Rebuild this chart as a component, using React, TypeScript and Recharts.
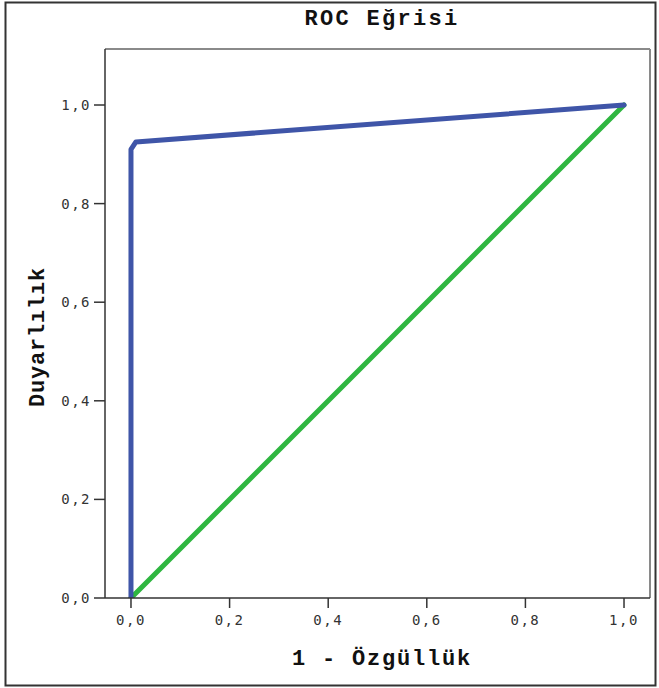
import React from 'react';
import { LineChart, Line, XAxis, YAxis } from 'recharts';

// ROC points
const ROC_CURVE = [
  { x: 0, y: 0 },
  { x: 0, y: 0.91 },
  { x: 0.01, y: 0.925 },
  { x: 1, y: 1 },
];
const REFERENCE_LINE = [
  { x: 0, y: 0 },
  { x: 1, y: 1 },
];
const TICKS = [0, 0.2, 0.4, 0.6, 0.8, 1];
const X_DOMAIN = [-0.0527, 1.0527];
const Y_DOMAIN = [0, 1.1136];

const fmt = (v: number) => v.toFixed(1).replace('.', ',');

const tickStyle = { fill: '#333', fontSize: 14, fontFamily: '"DejaVu Sans Mono", monospace', letterSpacing: 1.5 };
const labelFont = { fontFamily: '"Liberation Mono", "Courier New", monospace', fontWeight: 700, fill: '#111' };

export default function App() {
  return (
    <div style={{ position: 'absolute', left: 0, top: 0, width: 659, height: 688, background: '#fff' }}>
      <LineChart width={659} height={688} margin={{ top: 0, right: 0, bottom: 0, left: 0 }}>
        <XAxis xAxisId="top" orientation="top" type="number" dataKey="x" domain={X_DOMAIN} allowDataOverflow
          height={49} tick={false} tickLine={false} axisLine={{ stroke: '#8a8a8a', strokeWidth: 2 }} />
        <YAxis yAxisId="right" orientation="right" type="number" dataKey="y" domain={Y_DOMAIN} allowDataOverflow
          width={9} tick={false} tickLine={false} axisLine={{ stroke: '#8a8a8a', strokeWidth: 2 }} />
        <XAxis type="number" dataKey="x" domain={X_DOMAIN} ticks={TICKS} allowDataOverflow height={90}
          tickFormatter={fmt} tickSize={10} tickMargin={7} tick={tickStyle}
          axisLine={{ stroke: '#333', strokeWidth: 1.5 }} tickLine={{ stroke: '#333', strokeWidth: 1.5 }} />
        <YAxis type="number" dataKey="y" domain={Y_DOMAIN} ticks={TICKS} allowDataOverflow width={105}
          tickFormatter={fmt} tickSize={11} tickMargin={3} tick={tickStyle}
          axisLine={{ stroke: '#333', strokeWidth: 1.5 }} tickLine={{ stroke: '#333', strokeWidth: 1.5 }} />
        <Line data={REFERENCE_LINE} dataKey="y" stroke="#2fb640" strokeWidth={5} dot={false}
          strokeLinecap="round" isAnimationActive={false} />
        <Line data={ROC_CURVE} dataKey="y" stroke="#3f55a8" strokeWidth={5} dot={false}
          strokeLinejoin="round" strokeLinecap="round" isAnimationActive={false} />
      </LineChart>
      <svg width={659} height={688} style={{ position: 'absolute', left: 0, top: 0, pointerEvents: 'none' }}>
        <rect x={5.5} y={2.5} width={650} height={683} fill="none" stroke="#333" strokeWidth={2} />
        <text x={382} y={25} textAnchor="middle" fontSize={22} letterSpacing={2.3} {...labelFont}>ROC Eğrisi</text>
        <text x={382} y={665} textAnchor="middle" fontSize={22} letterSpacing={1.8} {...labelFont}>1 - Özgüllük</text>
        <text transform="translate(44,337) rotate(-90)" textAnchor="middle" fontSize={22} letterSpacing={0.8} {...labelFont}>Duyarlılık</text>
      </svg>
    </div>
  );
}
